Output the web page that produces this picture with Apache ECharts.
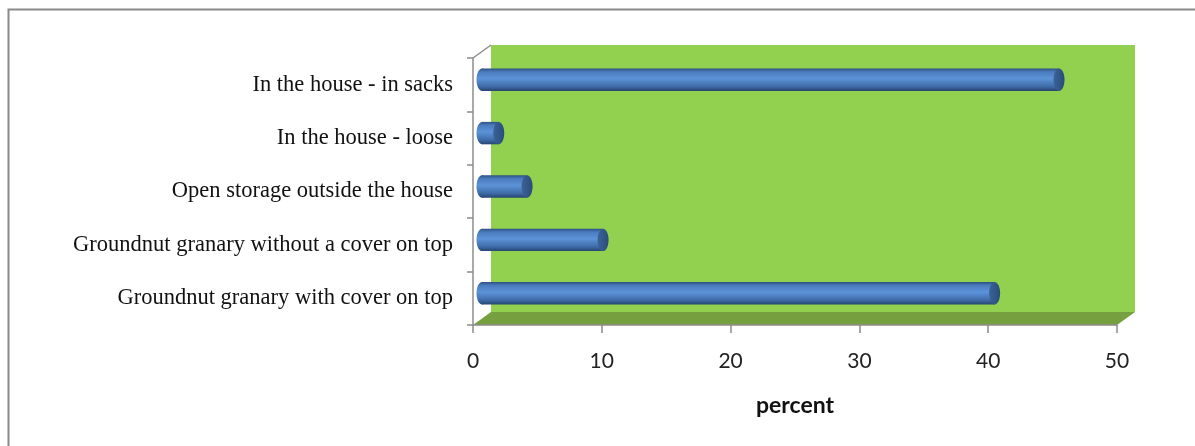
<!DOCTYPE html>
<html>
<head>
<meta charset="utf-8">
<script src="https://cdn.jsdelivr.net/npm/echarts@6/dist/echarts.min.js"></script>
<style>
  html, body { margin: 0; padding: 0; background: #fff; }
  #chart { width: 1195px; height: 446px; }
</style>
</head>
<body>
<div id="chart"></div>
<script>
// categories, bottom to top
var categories = [
    'Groundnut granary with cover on top',
    'Groundnut granary without a cover on top',
    'Open storage outside the house',
    'In the house - loose',
    'In the house - in sacks'
];
var percentValues = [39.8, 9.4, 3.5, 1.3, 44.8];
var xTicks = [0, 10, 20, 30, 40, 50];

// depth offset of the 3d box
var DX = 18, DY = 13;

var myChart = echarts.init(document.getElementById('chart'));

var barData = percentValues.map(function (v, i) { return [v, i]; });

function renderWall(params, api) {
    var cs = params.coordSys;
    var x = cs.x, y = cs.y, w = cs.width, h = cs.height;
    return {
        type: 'group',
        children: [
            {   // back wall
                type: 'rect',
                shape: { x: x + DX, y: y - DY, width: w, height: h },
                style: { fill: '#92d050' }
            },
            {   // floor
                type: 'polygon',
                shape: { points: [[x, y + h], [x + w, y + h], [x + w + DX, y + h - DY], [x + DX, y + h - DY]] },
                style: { fill: '#76a03f' }
            },
            {   // top-left diagonal of the side wall
                type: 'line',
                shape: { x1: x, y1: y, x2: x + DX, y2: y - DY },
                style: { stroke: '#8c8c8c', lineWidth: 1.5 }
            }
        ]
    };
}

function renderBar(params, api) {
    var cat = api.value(1);
    var p0 = api.coord([0, cat]);
    var p1 = api.coord([api.value(0), cat]);
    var band = api.size([0, 1])[1];
    var hh = band * 0.42 / 2;
    var cy = p0[1] - 5;
    var x0 = p0[0] + DX / 2, x1 = p1[0] + DX / 2;
    var rx = 5.5;
    var bodyFill = new echarts.graphic.LinearGradient(0, 0, 0, 1, [
        { offset: 0, color: '#2d5183' },
        { offset: 0.15, color: '#4a7bbd' },
        { offset: 0.45, color: '#5d93d8' },
        { offset: 0.8, color: '#3f6ca8' },
        { offset: 1, color: '#26456f' }
    ]);
    return {
        type: 'group',
        children: [
            {
                type: 'ellipse',
                shape: { cx: x0, cy: cy, rx: rx, ry: hh },
                style: { fill: bodyFill }
            },
            {
                type: 'rect',
                shape: { x: x0, y: cy - hh, width: Math.max(x1 - x0, 0), height: hh * 2 },
                style: { fill: bodyFill }
            },
            {
                type: 'ellipse',
                shape: { cx: x1, cy: cy, rx: rx, ry: hh },
                style: {
                    fill: new echarts.graphic.LinearGradient(0, 0, 1, 0, [
                        { offset: 0, color: '#3a6398' },
                        { offset: 1, color: '#2b4c7a' }
                    ])
                }
            }
        ]
    };
}

var option = {
    animation: false,
    graphic: [{
        type: 'rect',
        shape: { x: 8.5, y: 9.5, width: 1400, height: 800 },
        style: { fill: 'none', stroke: '#8a8a8a', lineWidth: 2 },
        silent: true
    }],
    grid: {
        left: 473,
        right: 78,
        top: 58,
        bottom: 121
    },
    xAxis: {
        type: 'value',
        min: xTicks[0],
        max: xTicks[xTicks.length - 1],
        interval: 10,
        axisLine: { show: true, lineStyle: { color: '#8c8c8c', width: 1.5 } },
        axisTick: { show: true, length: 8, lineStyle: { color: '#8c8c8c', width: 1.5 } },
        splitLine: { show: false },
        axisLabel: {
            margin: 26,
            fontFamily: 'Lato',
            fontSize: 21,
            color: '#222'
        },
        name: 'percent',
        nameLocation: 'middle',
        nameGap: 69,
        nameTextStyle: {
            fontFamily: 'Lato',
            fontWeight: 'bold',
            fontSize: 23,
            color: '#111'
        }
    },
    yAxis: {
        type: 'category',
        data: categories,
        axisLine: { show: true, lineStyle: { color: '#8c8c8c', width: 1.5 } },
        axisTick: { show: true, length: 6, lineStyle: { color: '#8c8c8c', width: 1.5 } },
        axisLabel: {
            margin: 20,
            fontFamily: 'Liberation Serif',
            fontSize: 22.5,
            color: '#111'
        },
        splitLine: { show: false }
    },
    series: [
        {
            type: 'custom',
            z: -1,
            silent: true,
            renderItem: renderWall,
            data: [[0, 0]],
            encode: { x: 0, y: 1 }
        },
        {
            type: 'custom',
            z: 3,
            renderItem: renderBar,
            data: barData,
            encode: { x: 0, y: 1 }
        }
    ]
};

myChart.setOption(option);
</script>
</body>
</html>
